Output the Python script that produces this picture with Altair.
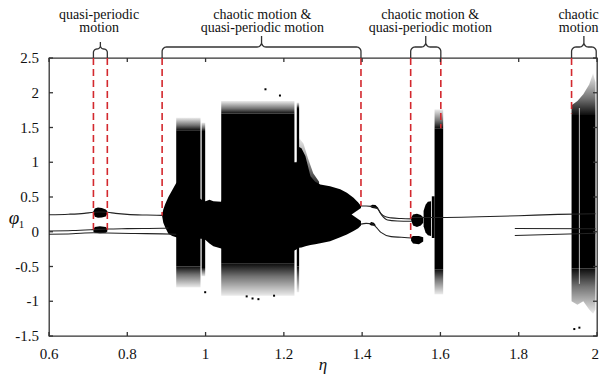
import numpy as np
import pandas as pd
import altair as alt

# ---------------- axes ----------------
X_MIN, X_MAX = 0.6, 2.0
Y_MIN, Y_MAX = -1.5, 2.5
W, H = 548, 278
SX = W / (X_MAX - X_MIN)
SY = H / (Y_MAX - Y_MIN)
X_TICKS = [0.6, 0.8, 1.0, 1.2, 1.4, 1.6, 1.8, 2.0]
X_LABELS = ["0.6", "0.8", "1", "1.2", "1.4", "1.6", "1.8", "2"]
Y_TICKS = [-1.5, -1.0, -0.5, 0.0, 0.5, 1.0, 1.5, 2.0, 2.5]
Y_LABELS = ["-1.5", "-1", "-0.5", "0", "0.5", "1", "1.5", "2", "2.5"]

# ---------------- periodic branches (thin lines) ----------------
L_UP_ETA = [0.6, 0.65, 0.69, 0.7135, 0.731, 0.749, 0.77, 0.8, 0.85, 0.889]
L_UP_PHI = [0.245, 0.252, 0.265, 0.28, 0.285, 0.28, 0.265, 0.25, 0.24, 0.235]
L_MID_ETA = [0.6, 0.66, 0.7135, 0.749, 0.8, 0.889, 0.905]
L_MID_PHI = [0.01, 0.017, 0.03, 0.04, 0.045, 0.05, 0.055]
L_LOW_ETA = [0.6, 0.66, 0.7135, 0.749, 0.82, 0.889, 0.925]
L_LOW_PHI = [-0.035, -0.028, -0.015, -0.018, -0.025, -0.03, -0.035]
R_UP1_ETA = [1.397, 1.41, 1.423, 1.44, 1.448, 1.46, 1.474, 1.5, 1.527]
R_UP1_PHI = [0.37, 0.37, 0.365, 0.33, 0.26, 0.215, 0.2, 0.19, 0.185]
R_UP2_ETA = [1.44, 1.45, 1.465, 1.49, 1.527]
R_UP2_PHI = [0.33, 0.24, 0.17, 0.155, 0.15]
R_LOW_ETA = [1.397, 1.41, 1.425, 1.435, 1.448, 1.474, 1.5, 1.527]
R_LOW_PHI = [0.11, 0.12, 0.115, 0.07, -0.01, -0.07, -0.08, -0.09]
R_LONG_ETA = [1.527, 1.6, 1.7, 1.8, 1.9, 1.996]
R_LONG_PHI = [0.205, 0.205, 0.215, 0.23, 0.25, 0.26]
R_S1_ETA = [1.79, 1.996]
R_S1_PHI = [0.047, 0.043]
R_S2_ETA = [1.79, 1.996]
R_S2_PHI = [-0.053, -0.022]

# ---------------- small quasi-periodic blobs ----------------
BLOB_U_ETA = [0.7135, 0.717, 0.725, 0.735, 0.745, 0.749]
BLOB_U_LO = [0.265, 0.215, 0.20, 0.205, 0.22, 0.26]
BLOB_U_HI = [0.295, 0.335, 0.348, 0.34, 0.32, 0.30]
BLOB_L_ETA = [0.7135, 0.717, 0.73, 0.745, 0.749]
BLOB_L_LO = [0.0, -0.015, -0.02, -0.015, 0.005]
BLOB_L_HI = [0.035, 0.07, 0.08, 0.07, 0.045]
RB_U_ETA = [1.421, 1.426, 1.434, 1.441]
RB_U_LO = [0.355, 0.34, 0.335, 0.33]
RB_U_HI = [0.37, 0.39, 0.385, 0.345]
RB_L_ETA = [1.419, 1.423, 1.43, 1.434]
RB_L_LO = [0.105, 0.09, 0.085, 0.08]
RB_L_HI = [0.12, 0.14, 0.13, 0.1]
B3U_ETA = [1.525, 1.53, 1.54, 1.55, 1.556]
B3U_LO = [0.17, 0.09, 0.07, 0.09, 0.13]
B3U_HI = [0.2, 0.25, 0.26, 0.24, 0.21]
B3L_ETA = [1.525, 1.53, 1.545, 1.556]
B3L_LO = [-0.13, -0.17, -0.18, -0.14]
B3L_HI = [-0.08, -0.06, -0.06, -0.08]
B3D_ETA = [1.557, 1.562, 1.568, 1.576]
B3D_LO = [0.08, -0.01, -0.05, -0.06]
B3D_HI = [0.3, 0.39, 0.43, 0.44]
B3C_ETA = [1.578, 1.585]
B3C_LO = [-0.09, -0.09]
B3C_HI = [0.51, 0.51]

# ---------------- chaotic core (dense black) ----------------
CORE_ETA = [0.889, 0.892, 0.897, 0.905, 0.915, 0.925, 0.93, 0.99, 1.0, 1.01, 1.02, 1.04, 1.05,
            1.227, 1.233, 1.239, 1.245, 1.255, 1.268, 1.28, 1.293, 1.318, 1.344, 1.361, 1.378, 1.39, 1.397]
CORE_LO = [0.225, 0.13, 0.06, -0.03, -0.06, -0.08, -0.09, -0.10, -0.12, -0.17, -0.21, -0.24, -0.26,
           -0.27, -0.25, -0.23, -0.225, -0.21, -0.19, -0.18, -0.165, -0.135, -0.08, -0.04, 0.01, 0.05, 0.09]
CORE_HI = [0.24, 0.32, 0.40, 0.50, 0.60, 0.70, 0.72, 0.46, 0.44, 0.46, 0.44, 0.43, 0.6,
           1.0, 1.0, 1.22, 1.2, 1.09, 0.80, 0.72, 0.68, 0.655, 0.61, 0.56, 0.49, 0.42, 0.37]
NOTCH_ETA = [1.373, 1.398]
NOTCH_LO = [0.25, 0.15]
NOTCH_HI = [0.25, 0.345]
TAIL_ETA = [1.239, 1.25, 1.262, 1.275, 1.29]
TAIL_LO = [0.6, 0.6, 0.6, 0.6, 0.6]
TAIL_HI = [1.35, 1.27, 1.05, 0.84, 0.72]

# ---------------- chaotic bands: dense part and speckled fringes ----------------
BAND_ID = ["b1", "b1b", "b2", "b2b", "b3"]
BAND_X1 = [0.925, 0.990, 1.040, 1.233, 1.585]
BAND_X2 = [0.987, 0.999, 1.227, 1.239, 1.607]
SOLID_LO = [-0.50, -0.52, -0.46, -0.50, -0.54]
SOLID_HI = [1.46, 1.45, 1.70, 1.78, 1.49]
FRINGE_TOP = [1.64, 1.57, 1.88, 1.86, 1.76]
FRINGE_BOT = [-0.80, -0.64, -0.92, -0.87, -0.90]
B4_ETA = [1.935, 1.95, 1.965, 1.98, 1.99, 1.996]
B4_SOLID_LO = [-0.53, -0.53, -0.53, -0.53, -0.53, -0.53]
B4_SOLID_HI = [1.68, 1.68, 1.68, 1.68, 1.68, 1.68]
B4_TOP = [1.82, 1.88, 1.98, 2.12, 2.28, 2.15]
B4_BOT = [-1.0, -1.05, -1.0, -1.12, -1.18, -1.12]
GAP4_ETA = [1.955]
OUT_ETA = [1.153, 1.19, 0.999, 1.12, 1.135, 1.942, 1.955, 1.105, 1.175]
OUT_PHI = [2.05, 1.96, -0.87, -0.96, -0.97, -1.40, -1.38, -0.93, -0.92]

# ---------------- annotations ----------------
DASH_ETA = [0.7135, 0.749, 0.889, 1.397, 1.524, 1.601, 1.935]
DASH_END = [0.03, 0.03, 0.235, 0.37, -0.09, 1.49, 1.70]
BRACE_FROM = [0.7135, 0.889, 1.524, 1.935]
BRACE_TO = [0.749, 1.397, 1.601, 1.998]
BRACE_YH = [9, 11, 11, 11]       # px: horizontal part above the frame
BRACE_YA = [16, 22, 22, 22]      # px: central tip above the frame
ANNOT_TEXT = ["quasi-periodic\nmotion", "chaotic motion &\nquasi-periodic motion",
              "chaotic motion &\nquasi-periodic motion", "chaotic\nmotion"]
ANNOT_ETA = [0.728, 1.145, 1.574, 1.953]
ANNOT_PHI = [Y_MAX + 39.3 / SY] * 4   # baseline of the first line

# ---------------- build tables ----------------
def line_rows(name, etas, phis):
    return [{"s": name, "eta": e, "phi": p, "o": i} for i, (e, p) in enumerate(zip(etas, phis))]

lines = []
for nm, e, p in [("lu", L_UP_ETA, L_UP_PHI), ("lm", L_MID_ETA, L_MID_PHI), ("ll", L_LOW_ETA, L_LOW_PHI),
                 ("ru1", R_UP1_ETA, R_UP1_PHI), ("ru2", R_UP2_ETA, R_UP2_PHI), ("rl", R_LOW_ETA, R_LOW_PHI),
                 ("rlong", R_LONG_ETA, R_LONG_PHI), ("rs1", R_S1_ETA, R_S1_PHI), ("rs2", R_S2_ETA, R_S2_PHI)]:
    lines += line_rows(nm, e, p)
df_lines = pd.DataFrame(lines)

def area_rows(group, tier, etas, los, his):
    return [{"g": group, "tier": tier, "eta": e, "lo": l, "hi": h} for e, l, h in zip(etas, los, his)]

areas = []
for i, b in enumerate(BAND_ID):
    xs2 = [BAND_X1[i], BAND_X2[i]]
    areas += area_rows(b, "top", xs2, [SOLID_HI[i]] * 2, [FRINGE_TOP[i]] * 2)
    areas += area_rows(b, "bot", xs2, [FRINGE_BOT[i]] * 2, [SOLID_LO[i]] * 2)
    areas += area_rows(b, "solid", xs2, [SOLID_LO[i]] * 2, [SOLID_HI[i]] * 2)
areas += area_rows("b4", "top", B4_ETA, B4_SOLID_HI, B4_TOP)
areas += area_rows("b4", "bot", B4_ETA, B4_BOT, B4_SOLID_LO)
areas += area_rows("b4", "solid", B4_ETA, B4_SOLID_LO, B4_SOLID_HI)
areas += area_rows("tail", "top", TAIL_ETA, TAIL_LO, TAIL_HI)
areas += area_rows("core", "solid", CORE_ETA, CORE_LO, CORE_HI)
for nm, e, l, h in [("bu", BLOB_U_ETA, BLOB_U_LO, BLOB_U_HI), ("bl", BLOB_L_ETA, BLOB_L_LO, BLOB_L_HI),
                    ("rbu", RB_U_ETA, RB_U_LO, RB_U_HI), ("rbl", RB_L_ETA, RB_L_LO, RB_L_HI),
                    ("b3u", B3U_ETA, B3U_LO, B3U_HI), ("b3l", B3L_ETA, B3L_LO, B3L_HI),
                    ("b3d", B3D_ETA, B3D_LO, B3D_HI), ("b3c", B3C_ETA, B3C_LO, B3C_HI)]:
    areas += area_rows(nm, "solid", e, l, h)
areas += area_rows("notch", "white", NOTCH_ETA, NOTCH_LO, NOTCH_HI)
df_areas = pd.DataFrame(areas)

df_out = pd.DataFrame({"eta": OUT_ETA, "phi": OUT_PHI})
df_dash = pd.DataFrame({"eta": DASH_ETA, "top": [Y_MAX] * len(DASH_ETA), "end": DASH_END})
df_gap = pd.DataFrame({"eta": GAP4_ETA, "lo": [-0.75], "hi": [1.78]})


def brace_points(e1, e2, yh, ya, r=4.5):
    p1 = (e1 - X_MIN) * SX
    p2 = (e2 - X_MIN) * SX
    pm = (p1 + p2) / 2
    r = min(r, (pm - p1) / 2, yh - 1)
    left = [(p1, 0.0), (p1, yh - r)]
    for t in np.linspace(np.pi, np.pi / 2, 8)[1:]:
        left.append((p1 + r + r * np.cos(t), yh - r + r * np.sin(t)))
    left.append((pm - r, yh))
    for t in np.linspace(-np.pi / 2, 0, 8)[1:]:
        left.append((pm - r + r * np.cos(t), yh + r + r * np.sin(t)))
    left.append((pm, ya))
    right = [(p1 + p2 - x, y) for (x, y) in reversed(left)]
    pts = left + right[1:]
    return [(X_MIN + x / SX, Y_MAX + y / SY) for x, y in pts]

braces = []
for k in range(len(BRACE_FROM)):
    for i, (e, p) in enumerate(brace_points(BRACE_FROM[k], BRACE_TO[k], BRACE_YH[k], BRACE_YA[k])):
        braces.append({"b": k, "eta": e, "phi": p, "o": i})
df_braces = pd.DataFrame(braces)

df_text = pd.DataFrame({"t": ANNOT_TEXT, "eta": ANNOT_ETA, "phi": ANNOT_PHI})
df_xt = pd.DataFrame({"v": X_TICKS, "lab": X_LABELS})
df_yt = pd.DataFrame({"v": Y_TICKS, "lab": Y_LABELS})

# ---------------- chart ----------------
xs = alt.Scale(domain=[X_MIN, X_MAX], nice=False, zero=False)
ys = alt.Scale(domain=[Y_MIN, Y_MAX], nice=False, zero=False)
SERIF = "'Liberation Serif', Tinos, 'Times New Roman', Times, 'DejaVu Serif', serif"
X = lambda f: alt.X(f, scale=xs, axis=None)
Y = lambda f: alt.Y(f, scale=ys, axis=None)

def grad(dark_at_bottom):
    stops = [alt.GradientStop(color="rgba(0,0,0,0.08)", offset=0),
             alt.GradientStop(color="rgba(0,0,0,0.55)", offset=0.6),
             alt.GradientStop(color="rgba(0,0,0,0.95)", offset=1)]
    if dark_at_bottom:
        return alt.LinearGradient(gradient="linear", stops=stops, x1=0, x2=0, y1=0, y2=1)
    return alt.LinearGradient(gradient="linear", stops=stops, x1=0, x2=0, y1=1, y2=0)

def tier_layer(tier, color, opacity=1.0):
    return alt.Chart(df_areas).transform_filter(alt.datum.tier == tier).mark_area(
        color=color, opacity=opacity, interpolate="linear", strokeWidth=0).encode(
        x=X("eta:Q"), y=Y("lo:Q"), y2="hi:Q", detail="g:N")

top_f = tier_layer("top", grad(True))
bot_f = tier_layer("bot", grad(False))
solid = tier_layer("solid", "black")
notch = tier_layer("white", "white")

gap = alt.Chart(df_gap).mark_rule(color="white", strokeWidth=0.8, opacity=0.9).encode(
    x=X("eta:Q"), y=Y("lo:Q"), y2="hi:Q")

line_layer = alt.Chart(df_lines).mark_line(color="#222", strokeWidth=1.1, interpolate="monotone").encode(
    x=X("eta:Q"), y=Y("phi:Q"), detail="s:N", order="o:Q")

outl = alt.Chart(df_out).mark_square(size=4, color="black", opacity=1).encode(x=X("eta:Q"), y=Y("phi:Q"))

dash = alt.Chart(df_dash).mark_rule(color="#d3282e", strokeWidth=1.6, strokeDash=[7, 4]).encode(
    x=X("eta:Q"), y=Y("top:Q"), y2="end:Q")

brace_layer = alt.Chart(df_braces).mark_line(color="#333", strokeWidth=1.3, clip=False).encode(
    x=X("eta:Q"), y=Y("phi:Q"), detail="b:N", order="o:Q")

text_layer = alt.Chart(df_text).mark_text(font=SERIF, fontSize=14, baseline="alphabetic",
                                          align="center", color="#111", clip=False,
                                          lineBreak="\n", lineHeight=13).encode(
    x=X("eta:Q"), y=Y("phi:Q"), text="t:N")

tick_style = dict(color="#333", strokeWidth=1.3)
t_top = alt.Chart(df_xt).mark_rule(**tick_style).encode(x=X("v:Q"), y=alt.value(0), y2=alt.value(4))
t_bot = alt.Chart(df_xt).mark_rule(**tick_style).encode(x=X("v:Q"), y=alt.value(H), y2=alt.value(H - 4))
t_left = alt.Chart(df_yt).mark_rule(**tick_style).encode(y=Y("v:Q"), x=alt.value(0), x2=alt.value(4))
t_right = alt.Chart(df_yt).mark_rule(**tick_style).encode(y=Y("v:Q"), x=alt.value(W), x2=alt.value(W - 4))

lab_style = dict(font=SERIF, fontSize=15, color="#111", baseline="middle")
x_lab = alt.Chart(df_xt).transform_filter(alt.datum.v < 1.99).mark_text(align="center", **lab_style).encode(
    x=X("v:Q"), y=alt.value(H + 18), text="lab:N")
x_lab_end = alt.Chart(df_xt).transform_filter(alt.datum.v >= 1.99).mark_text(align="right", dx=2, **lab_style).encode(
    x=X("v:Q"), y=alt.value(H + 18), text="lab:N")
y_lab = alt.Chart(df_yt).mark_text(align="right", **lab_style).encode(
    y=Y("v:Q"), x=alt.value(-10), text="lab:N")

phi_title = alt.Chart(pd.DataFrame({"t": ["φ"]})).mark_text(
    font=SERIF, fontSize=19, fontStyle="italic", align="center", baseline="alphabetic", color="#111").encode(
    x=alt.value(-35), y=alt.value(166), text="t:N")
phi_sub = alt.Chart(pd.DataFrame({"t": ["1"]})).mark_text(
    font=SERIF, fontSize=11, align="center", baseline="alphabetic", color="#111").encode(
    x=alt.value(-27.5), y=alt.value(170), text="t:N")
eta_title = alt.Chart(pd.DataFrame({"t": ["η"]})).mark_text(
    font=SERIF, fontSize=17, fontStyle="italic", align="center", baseline="alphabetic", color="#111").encode(
    x=alt.value(274), y=alt.value(312), text="t:N")

chart = alt.layer(
    top_f, bot_f, solid, notch, gap, line_layer, outl, dash,
    brace_layer, text_layer, t_top, t_bot, t_left, t_right,
    x_lab, x_lab_end, y_lab, phi_title, phi_sub, eta_title,
).properties(
    width=W, height=H,
    autosize=alt.AutoSizeParams(type="none"),
    padding={"left": 41, "top": 50, "right": 3, "bottom": 41},
).configure_view(stroke="#333", strokeWidth=1.3)

chart.save("out.html", embed_options={"renderer": "svg", "actions": False})
